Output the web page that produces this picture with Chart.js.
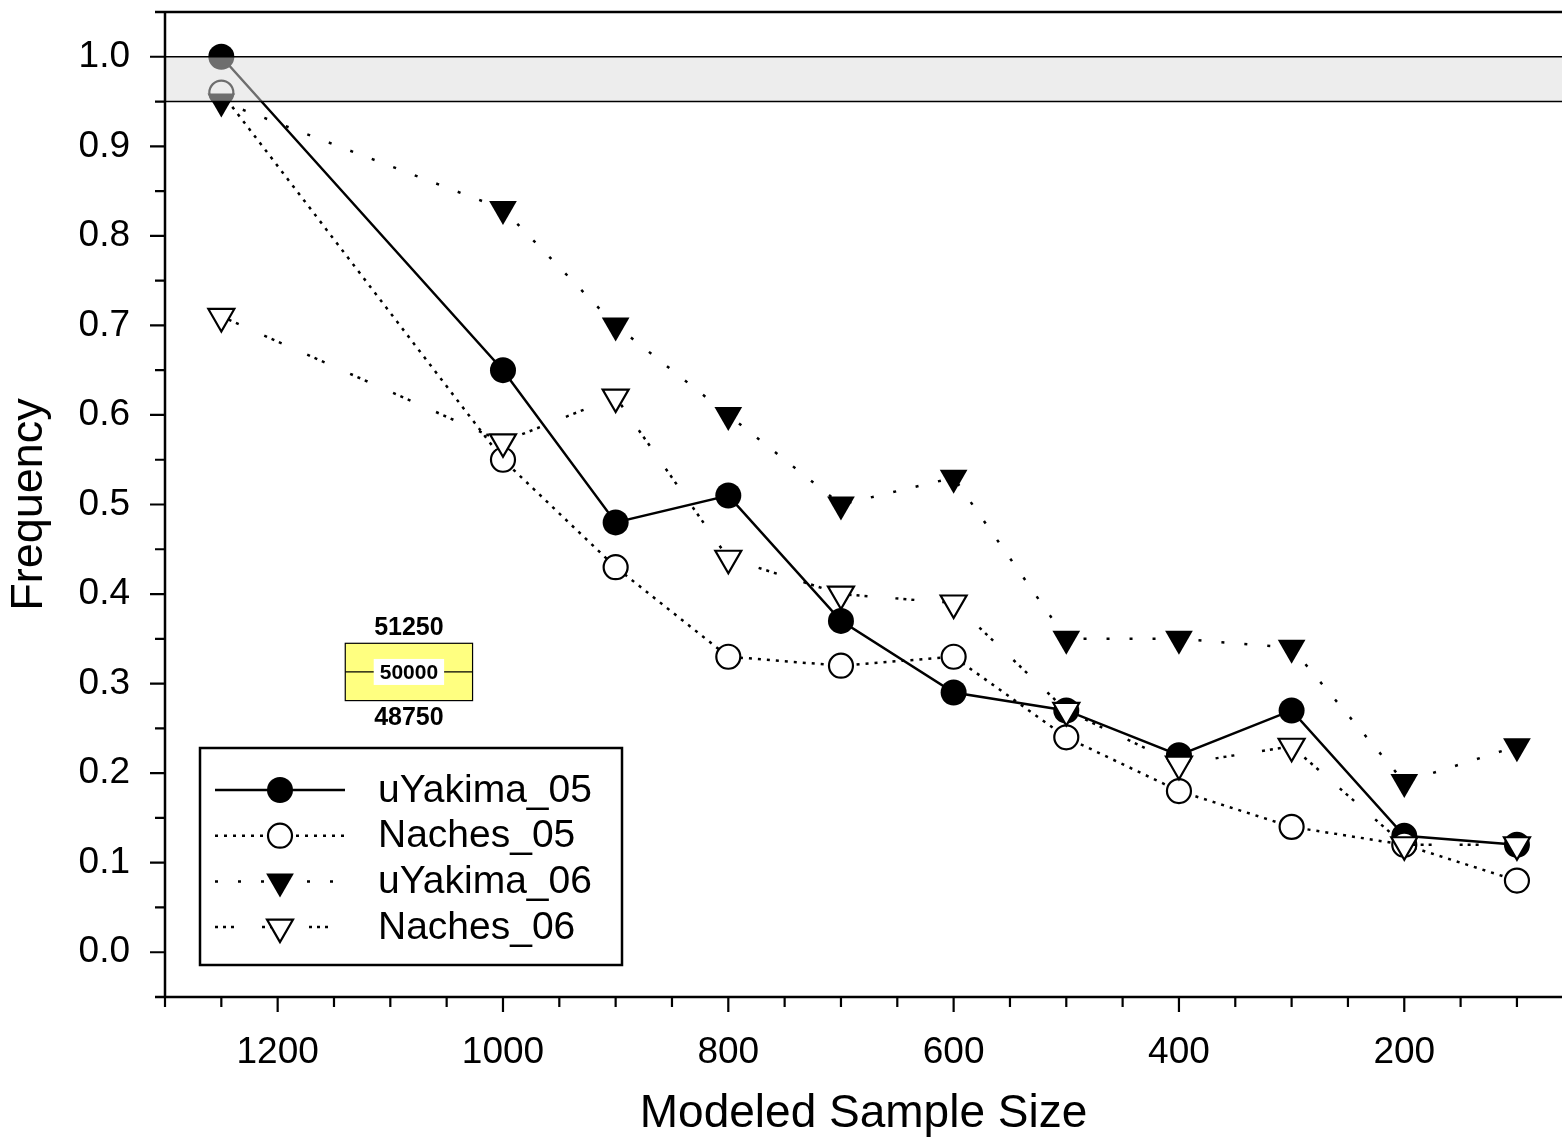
<!DOCTYPE html>
<html>
<head>
<meta charset="utf-8">
<script src="https://cdn.jsdelivr.net/npm/chart.js@4.4.1/dist/chart.umd.min.js"></script>
<style>
html, body { margin: 0; padding: 0; background: #fff; }
#wrap { width: 1562px; height: 1145px; }
</style>
</head>
<body>
<div id="wrap"><canvas id="grafico" width="1562" height="1145"></canvas></div>
<script>
// Datos
const sampleSizes = [1250, 1000, 900, 800, 700, 600, 500, 400, 300, 200, 100];
const uYakima05 = [1.00, 0.65, 0.48, 0.51, 0.37, 0.29, 0.27, 0.22, 0.27, 0.13, 0.12];
const naches05  = [0.96, 0.55, 0.43, 0.33, 0.32, 0.33, 0.24, 0.18, 0.14, 0.12, 0.08];
const uYakima06 = [0.95, 0.83, 0.70, 0.60, 0.50, 0.53, 0.35, 0.35, 0.34, 0.19, 0.23];
const naches06  = [0.71, 0.57, 0.62, 0.44, 0.40, 0.39, 0.27, 0.21, 0.23, 0.12, 0.12];

const xTickLabels = [1200, 1000, 800, 600, 400, 200];
const xMinorTicks = [1300, 1250, 1150, 1100, 1050, 950, 900, 850, 750, 700, 650, 550, 500, 450, 350, 300, 250, 150, 100];
const yTickLabels = [0.0, 0.1, 0.2, 0.3, 0.4, 0.5, 0.6, 0.7, 0.8, 0.9, 1.0];
const yMinorTicks = [-0.05, 0.05, 0.15, 0.25, 0.35, 0.45, 0.55, 0.65, 0.75, 0.85, 0.95, 1.05];

const bandRange = [0.95, 1.0];
const boxLabels = ['51250', '50000', '48750'];
const boxRangeX = [1140, 1027];
const boxRangeY = [0.345, 0.281];

const FONT = "'Liberation Sans', Arial, sans-serif";

function puntos(valores) {
    return sampleSizes.map((x, i) => ({ x: x, y: valores[i] }));
}

const series = [
    { label: 'uYakima_05', data: uYakima05, dash: [], style: 'circle', radius: 13, fill: '#000', bw: 0, order: 4 },
    { label: 'Naches_05', data: naches05, dash: [3, 6], style: 'circle', radius: 12, fill: '#fff', bw: 2.2, order: 3 },
    { label: 'uYakima_06', data: uYakima06, dash: [3, 20], style: 'triangle', radius: 16, fill: '#000', bw: 0, order: 2 },
    { label: 'Naches_06', data: naches06, dash: [3, 5, 3, 5, 3, 28], style: 'triangle', radius: 15, fill: '#fff', bw: 2.2, order: 1 }
];

// Ejes, banda gris, leyenda y recuadro amarillo
const decoraciones = {
    id: 'decoraciones',
    afterDatasetsDraw(chart) {
        const ctx = chart.ctx;
        const x = chart.scales.x;
        const y = chart.scales.y;
        const area = chart.chartArea;

        // banda gris semitransparente sobre los datos
        const yTop = y.getPixelForValue(bandRange[1]);
        const yBot = y.getPixelForValue(bandRange[0]);
        ctx.save();
        ctx.fillStyle = 'rgba(220, 220, 220, 0.5)';
        ctx.fillRect(area.left, yTop, area.right - area.left, yBot - yTop);
        ctx.strokeStyle = '#000';
        ctx.lineWidth = 1.5;
        ctx.beginPath();
        ctx.moveTo(area.left, yTop); ctx.lineTo(area.right, yTop);
        ctx.moveTo(area.left, yBot); ctx.lineTo(area.right, yBot);
        ctx.stroke();

        // líneas de ejes
        ctx.lineWidth = 2.5;
        ctx.beginPath();
        ctx.moveTo(area.left, area.top); ctx.lineTo(area.left, area.bottom);
        ctx.moveTo(area.left - 10, area.bottom); ctx.lineTo(area.right, area.bottom);
        ctx.moveTo(area.left - 10, area.top); ctx.lineTo(area.right, area.top);
        ctx.stroke();

        // marcas del eje Y
        ctx.lineWidth = 2.2;
        ctx.beginPath();
        yTickLabels.forEach(v => {
            const py = y.getPixelForValue(v);
            ctx.moveTo(area.left - 15, py); ctx.lineTo(area.left, py);
        });
        yMinorTicks.forEach(v => {
            const py = y.getPixelForValue(v);
            ctx.moveTo(area.left - 10, py); ctx.lineTo(area.left, py);
        });
        // marcas del eje X
        xTickLabels.forEach(v => {
            const px = x.getPixelForValue(v);
            ctx.moveTo(px, area.bottom); ctx.lineTo(px, area.bottom + 15);
        });
        xMinorTicks.forEach(v => {
            const px = x.getPixelForValue(v);
            ctx.moveTo(px, area.bottom); ctx.lineTo(px, area.bottom + 10);
        });
        ctx.stroke();

        // recuadro amarillo
        const bx1 = x.getPixelForValue(boxRangeX[0]);
        const bx2 = x.getPixelForValue(boxRangeX[1]);
        const by1 = y.getPixelForValue(boxRangeY[0]);
        const by2 = y.getPixelForValue(boxRangeY[1]);
        const bmid = (by1 + by2) / 2;
        const bcx = (bx1 + bx2) / 2;
        ctx.fillStyle = '#ffff80';
        ctx.fillRect(bx1, by1, bx2 - bx1, by2 - by1);
        ctx.lineWidth = 1.2;
        ctx.strokeRect(bx1, by1, bx2 - bx1, by2 - by1);
        ctx.beginPath();
        ctx.moveTo(bx1, bmid); ctx.lineTo(bx2, bmid);
        ctx.stroke();
        ctx.font = 'bold 21px ' + FONT;
        const w = ctx.measureText(boxLabels[1]).width + 12;
        ctx.fillStyle = '#fff';
        ctx.fillRect(bcx - w / 2, bmid - 13, w, 26);
        ctx.fillStyle = '#000';
        ctx.textAlign = 'center';
        ctx.textBaseline = 'middle';
        ctx.fillText(boxLabels[1], bcx, bmid + 1);
        ctx.font = 'bold 25px ' + FONT;
        ctx.fillText(boxLabels[0], bcx, by1 - 15);
        ctx.fillText(boxLabels[2], bcx, by2 + 18);

        // leyenda
        const lx = 200, ly = 748, lw = 422, lh = 217;
        ctx.fillStyle = '#fff';
        ctx.fillRect(lx, ly, lw, lh);
        ctx.strokeStyle = '#000';
        ctx.lineWidth = 2.5;
        ctx.strokeRect(lx, ly, lw, lh);
        series.forEach((s, i) => {
            const ry = ly + 42 + i * 45.7;
            ctx.lineWidth = 2.5;
            ctx.setLineDash(s.dash);
            ctx.beginPath();
            ctx.moveTo(lx + 15, ry); ctx.lineTo(lx + 145, ry);
            ctx.stroke();
            ctx.setLineDash([]);
            ctx.fillStyle = s.fill;
            ctx.strokeStyle = '#000';
            ctx.lineWidth = s.bw;
            Chart.helpers.drawPoint(ctx, {
                pointStyle: s.style,
                radius: s.radius,
                rotation: s.style === 'triangle' ? 180 : 0,
                borderWidth: s.bw
            }, lx + 80, ry);
            ctx.fillStyle = '#000';
            ctx.font = '39px ' + FONT;
            ctx.textAlign = 'left';
            ctx.textBaseline = 'middle';
            ctx.fillText(s.label, lx + 178, ry + 1);
        });
        ctx.restore();
    }
};

const datasets = series.map(s => ({
    label: s.label,
    data: puntos(s.data),
    borderColor: '#000',
    borderWidth: 2.5,
    borderDash: s.dash,
    pointStyle: s.style,
    pointRotation: s.style === 'triangle' ? 180 : 0,
    pointRadius: s.radius,
    pointBackgroundColor: s.fill,
    pointBorderColor: '#000',
    pointBorderWidth: s.bw,
    tension: 0,
    fill: false,
    order: s.order
}));

new Chart(document.getElementById('grafico').getContext('2d'), {
    type: 'line',
    data: { datasets: datasets },
    options: {
        responsive: false,
        animation: false,
        devicePixelRatio: 1,
        layout: { autoPadding: false, padding: { top: 12, right: 0, left: 0, bottom: 0 } },
        plugins: {
            legend: { display: false },
            tooltip: { enabled: false }
        },
        scales: {
            x: {
                type: 'linear',
                min: 60,
                max: 1300,
                reverse: true,
                afterBuildTicks: s => { s.ticks = xTickLabels.map(v => ({ value: v })); },
                afterFit: s => {
                    s.height = 148;
                    s.paddingLeft = 0;
                    s.paddingRight = 0;
                },
                grid: { display: false, drawTicks: false },
                border: { display: false },
                ticks: {
                    color: '#000',
                    padding: 34,
                    autoSkip: false,
                    maxRotation: 0,
                    font: { family: FONT, size: 37 },
                    callback: v => String(v)
                },
                title: {
                    display: true,
                    text: 'Modeled Sample Size',
                    color: '#000',
                    font: { family: FONT, size: 46 },
                    padding: { top: 0, bottom: 3 }
                }
            },
            y: {
                type: 'linear',
                min: -0.05,
                max: 1.05,
                afterBuildTicks: s => { s.ticks = yTickLabels.map(v => ({ value: v })); },
                afterFit: s => {
                    s.width = 165;
                    s.paddingTop = 0;
                    s.paddingBottom = 0;
                },
                grid: { display: false, drawTicks: false },
                border: { display: false },
                ticks: {
                    color: '#000',
                    padding: 35,
                    autoSkip: false,
                    font: { family: FONT, size: 37 },
                    callback: v => v.toFixed(1)
                },
                title: {
                    display: true,
                    text: 'Frequency',
                    color: '#000',
                    font: { family: FONT, size: 45 },
                    padding: { top: 3, bottom: 0 }
                }
            }
        }
    },
    plugins: [decoraciones]
});
</script>
</body>
</html>
